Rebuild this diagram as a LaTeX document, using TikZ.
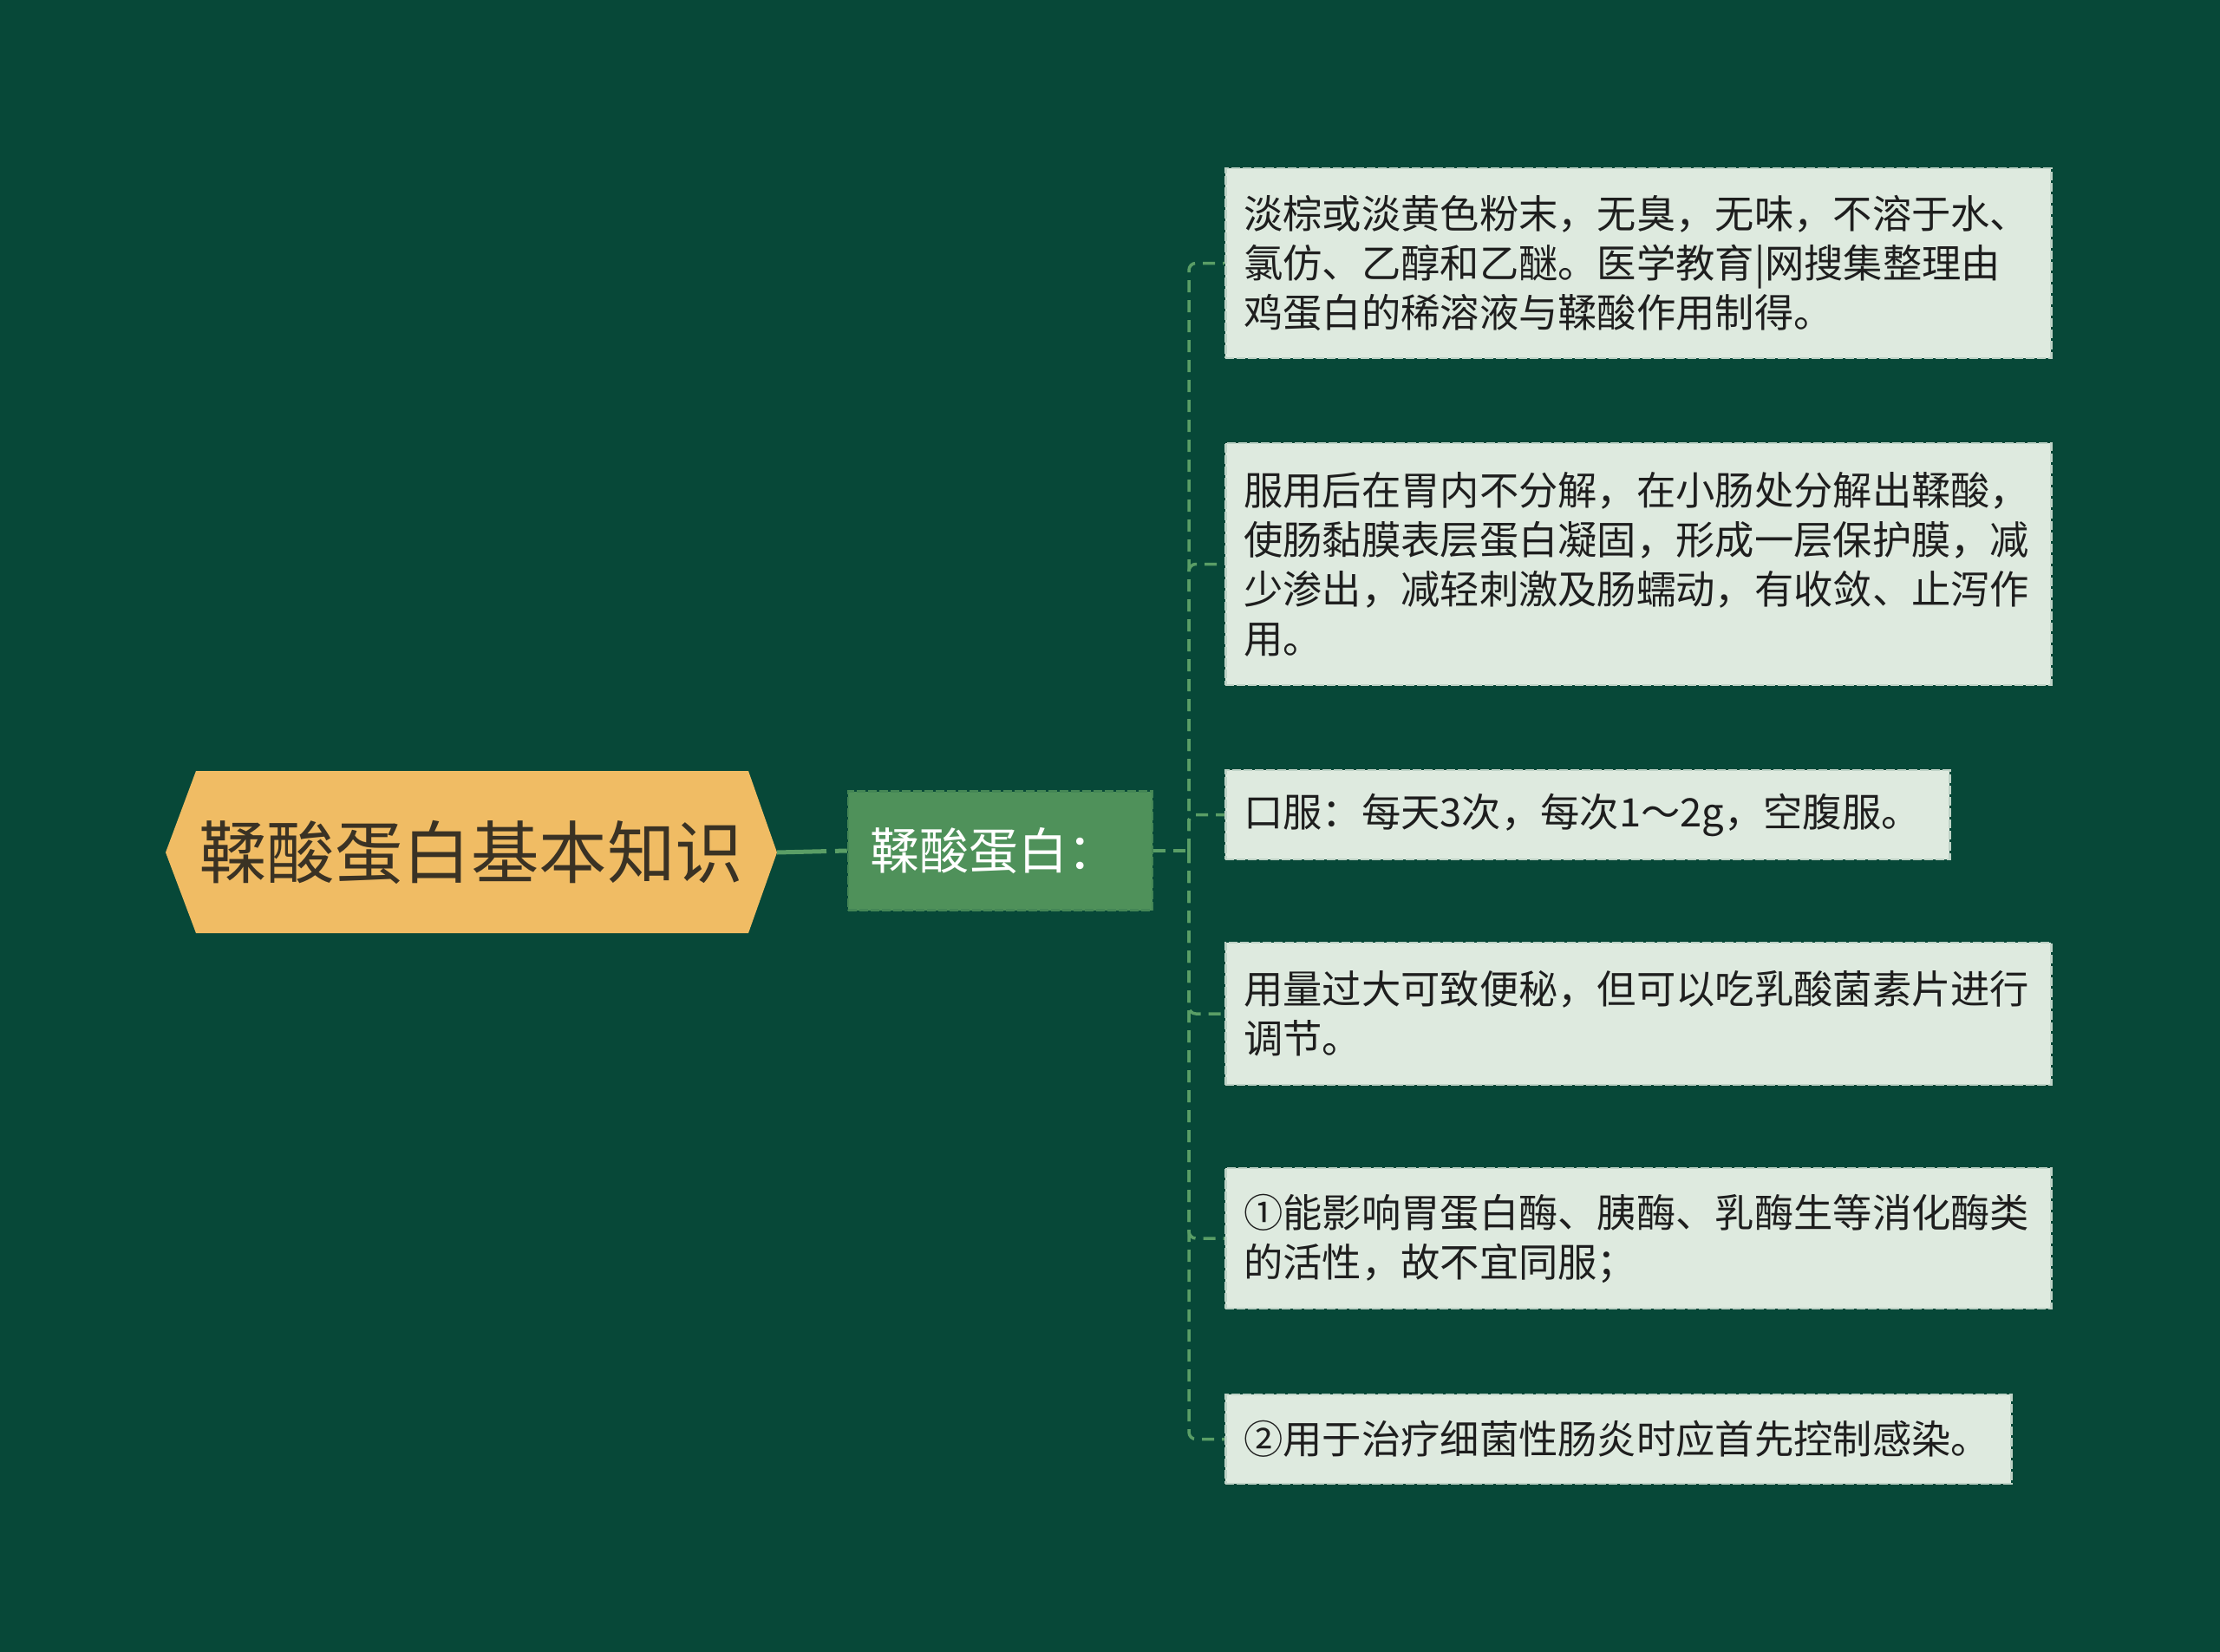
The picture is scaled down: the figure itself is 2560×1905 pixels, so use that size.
\documentclass[tikz,border=0pt]{standalone}
\usepackage{fontspec}
\setmainfont{Noto Sans CJK SC}
\definecolor{bgc}{HTML}{074838}
\definecolor{hexc}{HTML}{F0BC64}
\definecolor{midc}{HTML}{4F915A}
\definecolor{leafc}{HTML}{DEEADF}
\definecolor{linec}{HTML}{5A9E66}
\definecolor{dark}{HTML}{1E1E1E}
\definecolor{roottext}{HTML}{3A3224}
\tikzset{
  leaf/.style={rectangle, fill=leafc, draw=leafc!85!bgc, line width=2.5pt,
    dash pattern=on 10pt off 3pt, anchor=west, align=left, inner xsep=21pt,
    inner ysep=0pt, text=dark, font=\fontsize{45.3}{57}\selectfont},
  branch/.style={draw=linec, line width=3.5pt, dash pattern=on 14pt off 9pt},
}
\begin{document}
\begin{tikzpicture}[x=1pt,y=-1pt]
\fill[bgc] (0,0) rectangle (2560,1905);
\useasboundingbox (0,0) rectangle (2560,1905);
% root hexagon
\fill[hexc] (191,983) -- (226,889) -- (863,889) -- (896,983) -- (863,1076) -- (226,1076) -- cycle;
\node[text=roottext, font=\fontsize{78.5}{90}\selectfont, inner sep=0pt] (root) at (543,983) {鞣酸蛋白基本知识};
\coordinate (roottip) at (896,983);
% middle node
\node[rectangle, fill=midc, draw=midc!85!bgc, line width=2.5pt, dash pattern=on 10pt off 3pt,
  minimum width=351pt, minimum height=137pt, text=white, font=\fontsize{57}{66}\selectfont,
  align=left, text width=300pt, inner xsep=25pt] (mid) at (1153.5,981) {鞣酸蛋白：};
\draw[draw=linec, line width=5pt, dash pattern=on 57pt off 10pt] (roottip) -- (mid.west);
% leaves
\node[leaf, text width=910pt, minimum height=219pt] (l1) at (1412,303.5)
  {淡棕或淡黄色粉末，无臭，无味，不溶于水、\\氯仿、乙醇和乙醚。医学教育|网搜集整理由\\鸡蛋白的稀溶液与鞣酸作用制得。};
\node[leaf, text width=910pt, minimum height=279pt] (l2) at (1412,650.5)
  {服用后在胃内不分解，在小肠处分解出鞣酸，\\使肠黏膜表层蛋白凝固，形成一层保护膜，减\\少渗出，减轻刺激及肠蠕动，有收敛、止泻作\\用。};
\node[leaf, text width=793pt, minimum height=103pt] (l3) at (1412,939.5)
  {口服：每天3次，每次1～2g，空腹服。};
\node[leaf, text width=910pt, minimum height=164pt] (l4) at (1412,1169)
  {用量过大可致便秘，但可以吃乳酸菌素片进行\\调节。};
\node[leaf, text width=910pt, minimum height=162pt] (l5) at (1412,1428)
  {①能影响胃蛋白酶、胰酶、乳酶生等消化酶类\\的活性，故不宜同服；};
\node[leaf, text width=864pt, minimum height=103pt] (l6) at (1412,1659.5)
  {②用于治疗细菌性肠炎时应首先控制感染。};
% connectors
\coordinate (tj) at (1371,981);
\draw[branch] (mid.east) -- (tj);
\foreach \n in {l1,l2,l3,l4,l5,l6}{
  \draw[branch, rounded corners=8pt] (tj) |- (\n.west);
}
\end{tikzpicture}
\end{document}
